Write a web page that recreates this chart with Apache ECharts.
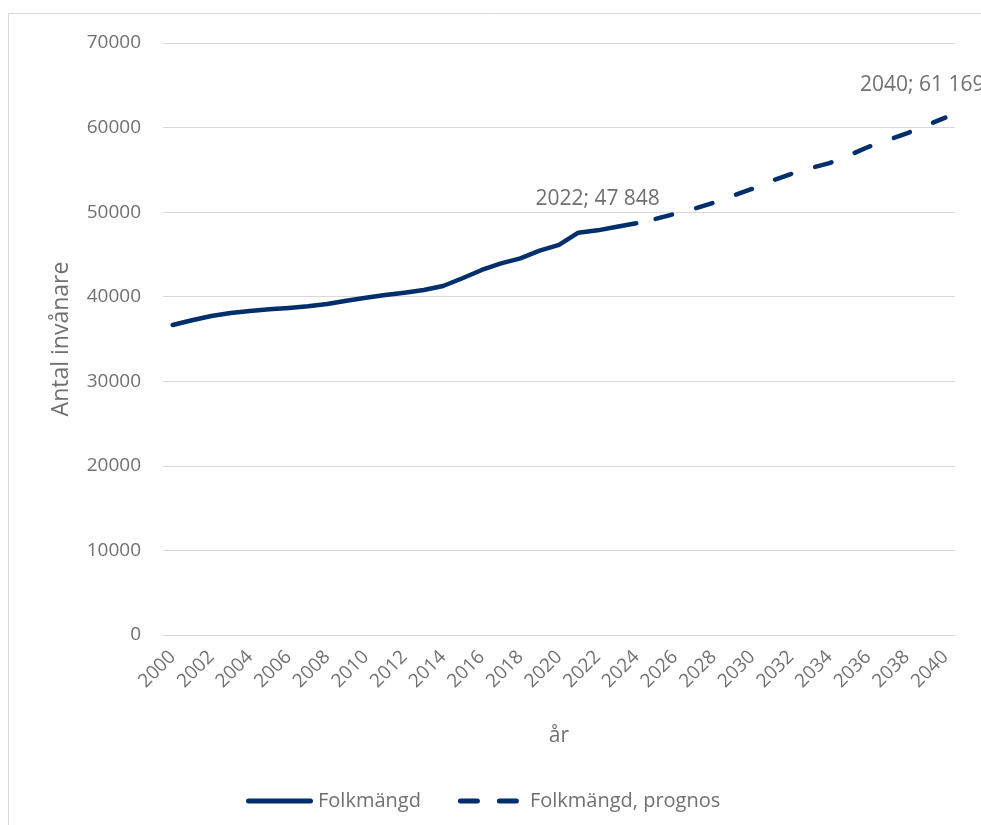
<!DOCTYPE html>
<html>
<head>
<meta charset="utf-8">
<script src="https://cdn.jsdelivr.net/npm/echarts@6/dist/echarts.min.js"></script>
<style>
html,body{margin:0;padding:0;background:#fff;}
#chart{width:981px;height:825px;}
</style>
</head>
<body>
<div id="chart"></div>
<script>
const years = [];
for (let y = 2000; y <= 2040; y++) years.push(String(y));

// Folkmängd (observed), 2000–2024
const folkmangd = [36650, 37210, 37720, 38070, 38310, 38510, 38670, 38870, 39140, 39530,
  39880, 40200, 40480, 40790, 41270, 42180, 43160, 43950, 44540, 45440,
  46120, 47570, 47848, 48280, 48680];

// Folkmängd, prognos, 2025–2040
const prognos = [49200, 49800, 50400, 51100, 51950, 52750, 53700, 54500,
  55200, 55800, 56700, 57700, 58500, 59300, 60250, 61169];

const labelYear1 = '2022';
const labelYear2 = '2040';

const font = "'Open Sans', 'Noto Sans', sans-serif";
const grey = '#707070';
const navy = '#002f6c';

function fmt(y, v) {
  return y + '; ' + String(v).replace(/\B(?=(\d{3})+(?!\d))/g, ' ');
}

const solidData = years.map((y, i) => {
  const v = i < folkmangd.length ? folkmangd[i] : null;
  if (y === labelYear1) {
    return {value: v, label: {show: true, position: 'top', distance: 21, formatter: () => fmt(y, v)}};
  }
  return v;
});
const progStart = folkmangd.length;
const progData = years.map((y, i) => {
  const k = i - progStart;
  const v = (k >= 0 && k < prognos.length) ? prognos[k] : null;
  if (y === labelYear2) {
    return {value: v, label: {show: true, position: 'top', distance: 22, offset: [-23, 0], formatter: () => fmt(y, v)}};
  }
  return v;
});

const chart = echarts.init(document.getElementById('chart'), null, {renderer: 'canvas'});
chart.setOption({
  backgroundColor: '#ffffff',
  animation: false,
  graphic: [{
    type: 'rect', silent: true,
    shape: {x: 8.5, y: 13.5, width: 1100, height: 1000},
    style: {fill: 'none', stroke: '#d9d9d9', lineWidth: 1}
  }],
  grid: {left: 163, right: 26, top: 43, bottom: 190, containLabel: false},
  xAxis: {
    type: 'category',
    data: years,
    boundaryGap: true,
    name: 'år',
    nameLocation: 'middle',
    nameGap: 91,
    nameTextStyle: {fontFamily: font, fontSize: 21, color: grey},
    axisLine: {show: true, lineStyle: {color: '#d9d9d9', width: 1}},
    axisTick: {show: false},
    axisLabel: {interval: 1, rotate: 45, margin: 19, fontFamily: font, fontSize: 19, color: grey},
    splitLine: {show: false}
  },
  yAxis: {
    type: 'value',
    min: 0, max: 70000, interval: 10000,
    name: 'Antal invånare',
    nameLocation: 'middle',
    nameGap: 90,
    nameRotate: 90,
    nameTextStyle: {fontFamily: font, fontSize: 23, color: grey},
    axisLine: {show: false},
    axisTick: {show: false},
    axisLabel: {margin: 22, fontFamily: font, fontSize: 19, color: grey, formatter: v => String(v)},
    splitLine: {lineStyle: {color: '#d9d9d9', width: 1}}
  },
  legend: {
    bottom: 14,
    left: 246,
    padding: 0,
    itemWidth: 67,
    itemHeight: 5,
    itemGap: 37,
    textStyle: {fontFamily: font, fontSize: 20, color: grey, padding: [0, 0, 0, 0]},
    data: [
      {name: 'Folkmängd', icon: 'path://M2.5,0 L64.5,0 A2.5,2.5 0 0 1 64.5,5 L2.5,5 A2.5,2.5 0 0 1 2.5,0 Z'},
      {name: 'Folkmängd, prognos', icon: 'path://M2.5,0 L19.5,0 A2.5,2.5 0 0 1 19.5,5 L2.5,5 A2.5,2.5 0 0 1 2.5,0 Z M41.5,0 L58.5,0 A2.5,2.5 0 0 1 58.5,5 L41.5,5 A2.5,2.5 0 0 1 41.5,0 Z M67,2.5 L67,2.5 Z'}
    ]
  },
  series: [
    {
      name: 'Folkmängd',
      type: 'line',
      data: solidData,
      symbol: 'circle',
      symbolSize: 0,
      showSymbol: true,
      smooth: false,
      connectNulls: false,
      lineStyle: {color: navy, width: 4.5, cap: 'round', join: 'round'},
      itemStyle: {color: navy},
      label: {fontFamily: font, fontSize: 21, color: grey}
    },
    {
      name: 'Folkmängd, prognos',
      type: 'line',
      data: progData,
      symbol: 'circle',
      symbolSize: 0,
      showSymbol: true,
      smooth: false,
      connectNulls: false,
      lineStyle: {color: navy, width: 4.5, type: [17, 25], cap: 'round', join: 'round'},
      itemStyle: {color: navy},
      label: {fontFamily: font, fontSize: 21, color: grey}
    }
  ]
});
</script>
</body>
</html>
